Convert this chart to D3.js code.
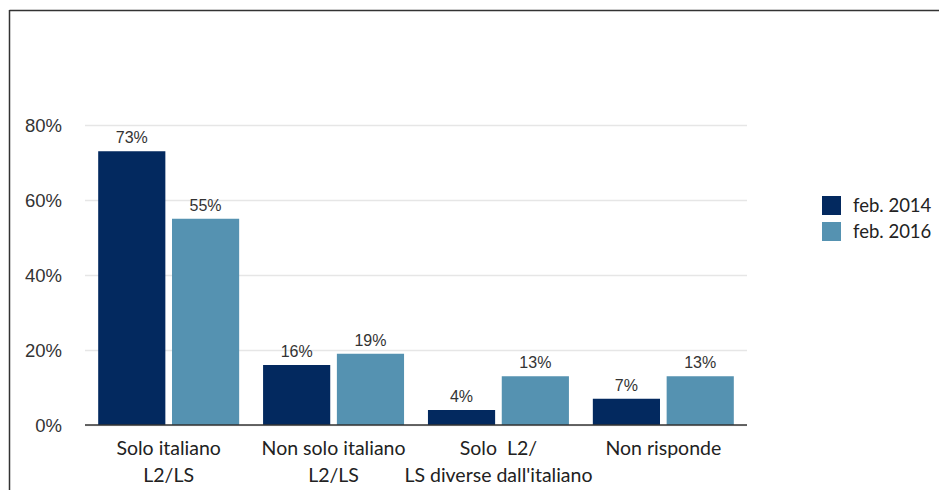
<!DOCTYPE html>
<html><head><meta charset="utf-8">
<script src="https://cdn.jsdelivr.net/npm/d3@7"></script>
<style>body{margin:0;background:#fff}svg{display:block}</style>
</head><body>
<script>
const categories = [["Solo italiano","L2/LS"],["Non solo italiano","L2/LS"],["Solo  L2/","LS diverse dall'italiano"],["Non risponde"]];
const seriesNames = ["feb. 2014","feb. 2016"];
const values2014 = [73,16,4,7];
const values2016 = [55,19,13,13];
const yTicks = [0,20,40,60,80];
const colors = ["#03295f","#5592b1"];

const W=939,H=490;
const svg=d3.select("body").append("svg").attr("width",W).attr("height",H);
svg.append("line").attr("x1",9.5).attr("x2",W).attr("y1",10.5).attr("y2",10.5).attr("stroke","#333").attr("stroke-width",1.5);
svg.append("line").attr("x1",9.5).attr("x2",9.5).attr("y1",10).attr("y2",H).attr("stroke","#333").attr("stroke-width",1.5);

const x0=d3.scaleBand().domain(d3.range(categories.length)).range([85,747]).paddingInner(0.145).paddingOuter(0.08);
const x1=d3.scaleBand().domain([0,1]).range([0,x0.bandwidth()]).paddingInner(0.09);
const y=d3.scaleLinear().domain([0,80]).range([425,125]);

const yAxis=d3.axisLeft(y).tickValues(yTicks).tickFormat(d=>d+"%").tickSize(-(747-85));
const ga=svg.append("g").attr("transform","translate(85,0)").call(yAxis);
ga.select(".domain").remove();
ga.selectAll(".tick line").attr("stroke","#e6e6e6").attr("stroke-width",1.5);
ga.selectAll(".tick text").attr("x",-23).attr("dy","0.36em").attr("fill","#333").style("font-family","Liberation Sans, Arial").style("font-size","18.5px");

const data=[values2014,values2016];
data.forEach((vals,s)=>{
  const g=svg.append("g");
  g.selectAll("rect").data(vals).join("rect")
    .attr("x",(d,i)=>x0(i)+x1(s)).attr("width",x1.bandwidth())
    .attr("y",d=>y(d)).attr("height",d=>y(0)-y(d)).attr("fill",colors[s]);
  g.selectAll("text").data(vals).join("text")
    .attr("x",(d,i)=>x0(i)+x1(s)+x1.bandwidth()/2).attr("y",d=>y(d)-8)
    .attr("text-anchor","middle").attr("fill","#333")
    .style("font-family","Liberation Sans, Arial").style("font-size","16px").text(d=>d+"%");
});
svg.append("line").attr("x1",85).attr("x2",747).attr("y1",y(0)).attr("y2",y(0)).attr("stroke","#333").attr("stroke-width",1.5);

const cg=svg.append("g");
categories.forEach((lines,i)=>{
  const t=cg.append("text").attr("text-anchor","middle").attr("fill","#222")
    .style("font-family","Lato, 'Open Sans', sans-serif").style("font-size","19.5px");
  lines.forEach((l,j)=>t.append("tspan").attr("x",x0(i)+x0.bandwidth()/2).attr("y",455+j*27).attr("xml:space","preserve").text(l));
});

const lg=svg.append("g");
seriesNames.forEach((n,i)=>{
  lg.append("rect").attr("x",822).attr("y",196+i*26).attr("width",19).attr("height",19).attr("fill",colors[i]);
  lg.append("text").attr("x",853).attr("y",212+i*26).attr("fill","#222")
    .style("font-family","Lato, 'Open Sans', sans-serif").style("font-size","18.5px").text(n);
});
</script>
</body></html>
